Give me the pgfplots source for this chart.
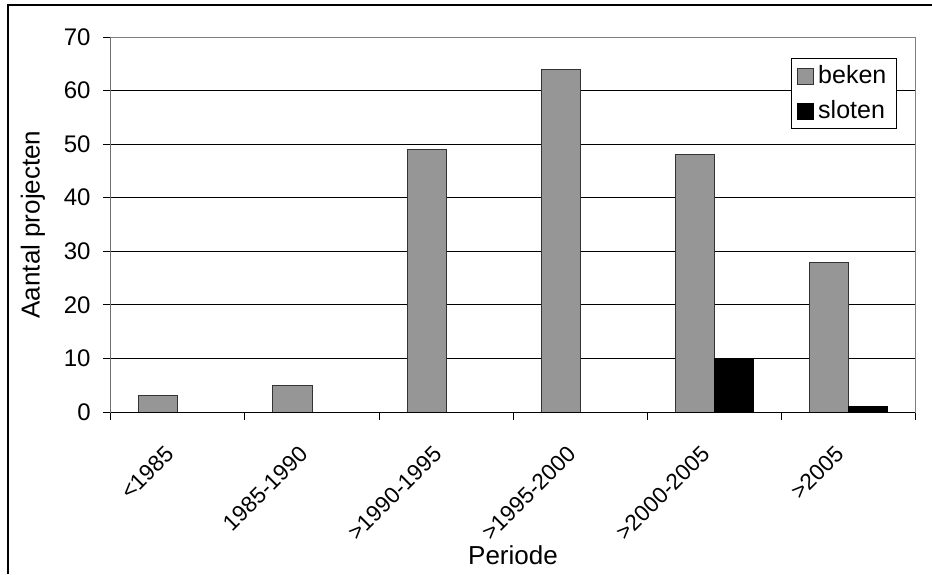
\documentclass[border=0pt]{standalone}
\usepackage{pgfplots}
\pgfplotsset{compat=1.18}
\usepackage{fontspec}
\setmainfont{Liberation Sans}
\definecolor{barGray}{RGB}{150,150,150}
\definecolor{boxGray}{RGB}{128,128,128}
\begin{document}
\begin{tikzpicture}
\path[use as bounding box] (-55.5pt,-81pt) rectangle (410.5pt,206pt);
\begin{axis}[
  at={(0,0)}, anchor=south west,
  scale only axis, width=402pt, height=187.5pt,
  xmin=-0.5, xmax=5.5, ymin=0, ymax=70,
  ybar=0pt, bar width=19.5pt,
  xtick={-0.5,0.5,...,5.5},
  xticklabels={{<1985},{1985-1990},{>1990-1995},{>1995-2000},{>2000-2005},{>2005}},
  x tick label as interval,
  ytick={0,10,...,70},
  xtick pos=bottom, ytick pos=left,
  tick align=outside, major tick length=4pt,
  tick style={black, line width=0.5pt},
  axis line style={draw=boxGray, line width=0.5pt},
  ymajorgrids, grid style={black, line width=0.5pt},
  /pgf/number format/assume math mode=true,
  yticklabel style={font=\fontsize{12}{14}\selectfont, inner sep=0pt, xshift=-6pt},
  xticklabel style={font=\fontsize{11.3}{13}\selectfont, xshift=-7pt, yshift=-12pt, rotate=45, anchor=north east, inner sep=0pt},
  xlabel={Periode}, ylabel={Aantal projecten},
  label style={font=\fontsize{13}{15}\selectfont},
  xlabel style={at={(axis description cs:0.5,-0.381)}, anchor=center},
  ylabel style={at={(axis description cs:-0.097,0.5)}, anchor=center},
  legend style={at={(axis description cs:0.8454,0.944)}, anchor=north west,
    draw=black, line width=0.5pt, fill=white,
    font=\fontsize{12.5}{14}\selectfont,
    inner xsep=3pt, inner ysep=1.5pt, row sep=3pt,
    /tikz/every even column/.append style={column sep=0pt}},
  legend cell align=left,
  legend image code/.code={\draw[#1, line width=0.5pt] (0pt,-4pt) rectangle (8pt,4pt);},
]
\addplot[fill=barGray, draw=black!80, line width=0.5pt] coordinates {(0,3) (1,5) (2,49) (3,64) (4,48) (5,28)};
\addplot[fill=black, draw=black, line width=0.5pt] coordinates {(0,0) (1,0) (2,0) (3,0) (4,10) (5,1)};
\legend{beken, sloten}
\draw[black, line width=0.5pt] (rel axis cs:0,1) -- (rel axis cs:0,0) -- (rel axis cs:1,0);
\end{axis}
\draw[black, line width=0.6pt] (-51.5pt,-81pt) -- (-51.5pt,203.5pt) -- (410.5pt,203.5pt);
\end{tikzpicture}
\end{document}
